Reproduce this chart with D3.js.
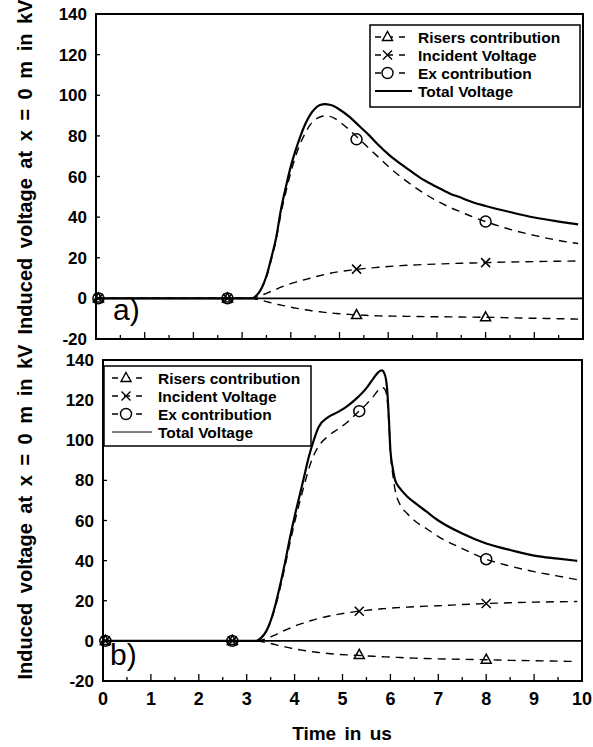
<!DOCTYPE html>
<html>
<head>
<meta charset="utf-8">
<style>
  body { margin: 0; background: #fff; }
  svg text { font-family: "Liberation Sans", Arial, sans-serif; font-weight: bold; fill: #000; }
</style>
</head>
<body>
<svg width="593" height="747"></svg>
<script src="https://cdn.jsdelivr.net/npm/d3@7/dist/d3.min.js"></script>
<script>
// ticks
var xTicks = [0, 1, 2, 3, 4, 5, 6, 7, 8, 9, 10];
var yTicks = [-20, 0, 20, 40, 60, 80, 100, 120, 140];
var names = ["Risers contribution", "Incident Voltage", "Ex contribution", "Total Voltage"];
var markT = [0.05, 2.7, 5.35, 8.0];

// panel a)
var aT = [0, 3.2, 3.3, 3.4, 3.5, 3.6, 3.7, 3.8, 3.9, 4.0, 4.1, 4.2, 4.3, 4.4, 4.5, 4.6, 4.7, 4.8, 4.9, 5.0,
    5.2, 5.4, 5.6, 5.8, 6.0, 6.25, 6.5, 6.75, 7.0, 7.25, 7.5, 7.75, 8.0, 8.5, 9.0, 9.5, 9.9];
var aTotal = [0, 0, 1.5, 5, 11, 20, 30, 44, 55, 65, 73, 80, 86, 90.5, 93.5, 95.2, 95.6, 95.3, 94.5, 93,
    89.5, 85, 80.5, 75.5, 71, 66.3, 62, 58, 54.8, 51.8, 49.5, 47.2, 45.5, 42.5, 39.8, 37.8, 36.4];
var aEx = [0, 0, 1.5, 5, 10.5, 19, 29, 42, 52.5, 62, 70, 76.5, 81.5, 85.5, 88, 89.3, 89.8, 89.6, 88.6, 87,
    83, 78.5, 74, 69.5, 65, 60, 55.5, 51.5, 48, 45, 42.5, 40, 37.8, 34, 31, 28.5, 27];
var aIncident = [0, 0, 0.8, 1.5, 2.5, 3.5, 4.5, 5.5, 6.4, 7.3, 8, 8.7, 9.3, 9.9, 10.6, 11.2, 11.8, 12.3, 12.8, 13.2,
    13.8, 14.4, 14.9, 15.3, 15.7, 16.1, 16.4, 16.7, 16.9, 17.1, 17.3, 17.45, 17.6, 17.9, 18.1, 18.3, 18.4];
var aRisers = [0, 0, -0.5, -1, -1.6, -2.2, -2.8, -3.3, -3.8, -4.3, -4.8, -5.2, -5.6, -6, -6.3, -6.6, -6.9, -7.2, -7.4, -7.6,
    -7.9, -8.2, -8.4, -8.6, -8.7, -8.8, -8.9, -9, -9.05, -9.1, -9.2, -9.25, -9.3, -9.55, -9.8, -10, -10.2];
var aMarkRisers = [0, 0, -8.2, -9.3];
var aMarkIncident = [0, 0, 14.4, 17.6];
var aMarkEx = [0, 0, 78.3, 37.8];

// panel b)
var bT = [0, 3.2, 3.3, 3.4, 3.5, 3.6, 3.7, 3.8, 3.9, 4.0, 4.1, 4.2, 4.3, 4.4, 4.5, 4.7, 4.9, 5.1, 5.3, 5.5,
    5.65, 5.75, 5.82, 5.88, 5.93, 5.97, 6.0, 6.05, 6.1, 6.2, 6.35, 6.5, 6.75, 7.0, 7.5, 8.0, 8.5, 9.0, 9.5, 9.9];
var bTotal = [0, 0, 1.5, 4.5, 10, 18, 28, 39, 51, 62, 72, 82, 92, 100, 106.5, 111.5, 114, 117, 121, 126,
    131, 134, 134.8, 133, 126, 110, 95, 86, 80, 76, 72, 69, 64.5, 60, 53.5, 48.5, 45.3, 42.5, 41, 39.9];
var bEx = [0, 0, 1.5, 4.5, 9.5, 17, 26.5, 37, 48.5, 59, 68.5, 77.5, 86, 92.5, 97, 102, 105.5, 109, 113.5, 118,
    122, 125, 126.3, 125.5, 121, 108, 94, 83, 75, 68, 63.5, 60, 56, 52, 46, 40.7, 37.3, 34.5, 32.3, 30.5];
var bIncident = [0, 0, 0.3, 1, 2, 3, 4.2, 5.3, 6.3, 7.3, 8.2, 9, 9.8, 10.5, 11.2, 12.3, 13.2, 14, 14.7, 15.2,
    15.6, 15.8, 16, 16.1, 16.2, 16.3, 16.3, 16.4, 16.5, 16.6, 16.8, 17, 17.3, 17.5, 18.1, 18.6, 19, 19.3, 19.5, 19.6];
var bRisers = [0, 0, -0.3, -0.8, -1.3, -1.9, -2.5, -3, -3.5, -4, -4.4, -4.8, -5.2, -5.5, -5.8, -6.3, -6.7, -7, -7.2, -7.5,
    -7.7, -7.8, -7.9, -7.95, -8, -8.05, -8.1, -8.15, -8.2, -8.3, -8.45, -8.6, -8.8, -8.95, -9.2, -9.4, -9.7, -9.9, -10.1, -10.3];
var bMarkRisers = [0, 0, -7, -9.4];
var bMarkIncident = [0, 0, 14.8, 18.6];
var bMarkEx = [0, 0, 114.5, 40.7];

var svg = d3.select("svg");

var markers = {
    tri: "M0,-5.5L5,3.5L-5,3.5Z",
    cross: "M-4.5,-4.5L4.5,4.5M-4.5,4.5L4.5,-4.5",
    circ: d3.symbol(d3.symbolCircle, 95)()
};

function panel(p) {
    var x = d3.scaleLinear().domain([0, 10]).range(p.xr);
    var y = d3.scaleLinear().domain([-20, 140]).range(p.yr);
    var g = svg.append("g");

    // zero line
    g.append("line")
        .attr("x1", x(0)).attr("x2", x(10))
        .attr("y1", y(0)).attr("y2", y(0))
        .attr("stroke", "#000").attr("stroke-width", 1.6);

    var series = [
        { v: p.risers, m: p.mRisers, sym: "tri" },
        { v: p.incident, m: p.mIncident, sym: "cross" },
        { v: p.ex, m: p.mEx, sym: "circ" }
    ];
    var line = d3.line().x(function(d) { return x(d[0]); }).y(function(d) { return y(d[1]); })
        .curve(d3.curveMonotoneX);

    series.forEach(function(s) {
        g.append("path")
            .datum(d3.zip(p.t, s.v))
            .attr("d", line)
            .attr("fill", "none").attr("stroke", "#000")
            .attr("stroke-width", 1.4).attr("stroke-dasharray", "8,6");
        g.selectAll(null).data(d3.zip(markT, s.m)).enter().append("path")
            .attr("transform", function(d) { return "translate(" + x(d[0]) + "," + y(d[1]) + ")"; })
            .attr("d", markers[s.sym])
            .attr("fill", "none").attr("stroke", "#000").attr("stroke-width", 1.5);
    });

    g.append("path")
        .datum(d3.zip(p.t, p.total))
        .attr("d", line)
        .attr("fill", "none").attr("stroke", "#000").attr("stroke-width", 2.2);

    // frame
    g.append("rect")
        .attr("x", x(0)).attr("y", y(140))
        .attr("width", x(10) - x(0)).attr("height", y(-20) - y(140))
        .attr("fill", "none").attr("stroke", "#000").attr("stroke-width", 2);

    // inward ticks
    g.selectAll(null).data(d3.range(0.5, 10, 0.5)).enter().append("line")
        .attr("x1", function(d) { return x(d); }).attr("x2", function(d) { return x(d); })
        .attr("y1", y(-20)).attr("y2", function(d) { return y(-20) - (d % 1 ? 4 : 7); })
        .attr("stroke", "#000").attr("stroke-width", 1.3);
    g.selectAll(null).data(yTicks.slice(1, -1)).enter().append("line")
        .attr("x1", x(0)).attr("x2", x(0) + 4)
        .attr("y1", function(d) { return y(d); }).attr("y2", function(d) { return y(d); })
        .attr("stroke", "#000").attr("stroke-width", 1.3);

    g.selectAll(null).data(yTicks).enter().append("text")
        .attr("x", x(0) - 9).attr("y", function(d) { return y(d); })
        .attr("dy", "0.36em").attr("text-anchor", "end")
        .attr("font-size", 17).text(function(d) { return d; });

    if (p.xlabels) {
        g.selectAll(null).data(xTicks).enter().append("text")
            .attr("x", function(d) { return x(d); }).attr("y", 705)
            .attr("text-anchor", "middle").attr("font-size", 18)
            .text(function(d) { return d; });
    }

    g.append("text")
        .attr("transform", "translate(32," + p.labelY + ") rotate(-90)")
        .attr("text-anchor", "middle").attr("font-size", 20)
        .attr("word-spacing", 4)
        .text("Induced voltage at x = 0 m in kV");

    g.append("text")
        .attr("x", p.tag[0]).attr("y", p.tag[1])
        .attr("font-size", 30).style("font-weight", "normal")
        .text(p.tagText);

    // legend
    var L = p.legend;
    var lg = g.append("g").attr("transform", "translate(" + L.x + "," + L.y + ")");
    lg.append("rect").attr("width", L.w).attr("height", L.h)
        .attr("fill", "#fff").attr("stroke", "#000").attr("stroke-width", 1.5);
    names.forEach(function(n, i) {
        var yy = 12 + i * 18;
        var row = lg.append("g").attr("transform", "translate(0," + yy + ")");
        if (i < 3) {
            row.append("line").attr("x1", L.s0).attr("x2", L.s1)
                .attr("stroke", "#000").attr("stroke-width", 1.4).attr("stroke-dasharray", "6,6");
            row.append("path")
                .attr("transform", "translate(" + ((L.s0 + L.s1) / 2 - 4) + ",0)")
                .attr("d", markers[series[i].sym])
                .attr("fill", "#fff").attr("stroke", "#000").attr("stroke-width", 1.4);
        } else {
            row.append("line").attr("x1", L.s0).attr("x2", L.s1 + 4)
                .attr("stroke", "#000").attr("stroke-width", p.legendSolid);
        }
        row.append("text").attr("x", L.tx).attr("dy", "0.36em")
            .attr("font-size", 15.5).text(n);
    });
}

panel({
    xr: [96, 583], yr: [339, 14],
    t: aT, total: aTotal, ex: aEx, incident: aIncident, risers: aRisers,
    mRisers: aMarkRisers, mIncident: aMarkIncident, mEx: aMarkEx,
    xlabels: false, labelY: 167, tag: [113, 320], tagText: "a)",
    legend: { x: 370, y: 25, w: 210, h: 82, s0: 5, s1: 38, tx: 48 },
    legendSolid: 2
});

panel({
    xr: [103, 582], yr: [681, 360],
    t: bT, total: bTotal, ex: bEx, incident: bIncident, risers: bRisers,
    mRisers: bMarkRisers, mIncident: bMarkIncident, mEx: bMarkEx,
    xlabels: true, labelY: 512, tag: [110, 665], tagText: "b)",
    legend: { x: 104, y: 366, w: 207, h: 80, s0: 8, s1: 44, tx: 54 },
    legendSolid: 1
});

svg.append("text")
    .attr("x", 342).attr("y", 740)
    .attr("text-anchor", "middle").attr("font-size", 19)
    .attr("word-spacing", 3)
    .text("Time in us");
</script>
</body>
</html>
